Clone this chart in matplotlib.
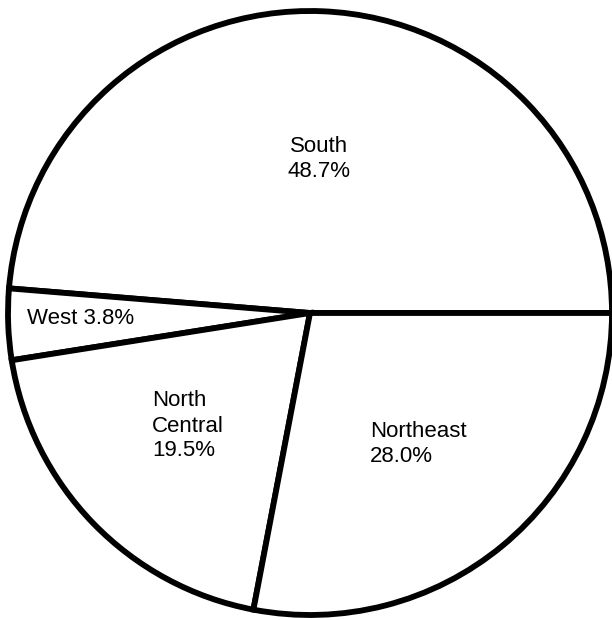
import matplotlib.pyplot as plt

# 各地区比例
regions = ["South", "West", "North Central", "Northeast"]
shares = [48.7, 3.8, 19.5, 28.0]
label_text = ["South\n48.7%", "West 3.8%", "North\nCentral\n19.5%", "Northeast\n28.0%"]

plt.rcParams['font.family'] = ['Liberation Sans', 'DejaVu Sans']

fig = plt.figure(figsize=(6.12, 6.2), dpi=100)
ax = fig.add_axes([0, 0, 1, 1])
ax.set_xlim(0, 612)
ax.set_ylim(0, 620)
ax.set_aspect('equal')
ax.axis('off')

ax.pie(shares, startangle=0, counterclock=True, center=(310, 307), radius=302,
       colors=['white'] * len(shares),
       wedgeprops=dict(edgecolor='black', linewidth=4.2, joinstyle='miter'))
ax.set_xlim(0, 612)
ax.set_ylim(0, 620)

# 标签位置（像素）
pos = [(319, 461, 'center'), (27, 301, 'left'), (152, 194, 'left'), (370, 176, 'left')]
for txt, (x, y, ha) in zip(label_text, pos):
    ax.text(x, y, txt, ha=ha, va='center', fontsize=16, linespacing=1.25)

fig.savefig("out.png", dpi=100, facecolor='white')
